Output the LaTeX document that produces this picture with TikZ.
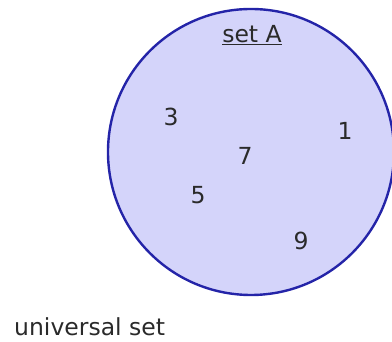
\documentclass[tikz,border=0pt]{standalone}
\usepackage{fontspec}
\setmainfont{DejaVu Sans}
\usepackage{tikz}
\usetikzlibrary{positioning}
\definecolor{SetFill}{HTML}{D4D4FA}
\definecolor{SetEdge}{HTML}{2424A8}
\definecolor{NumInk}{HTML}{2A2A2A}

\begin{document}
\begin{tikzpicture}[x=1pt,y=1pt,
  elem/.style={text=NumInk,font=\fontsize{23.5}{27}\selectfont,inner sep=0pt},
  setlabel/.style={text=NumInk,font=\fontsize{23.5}{27}\selectfont,inner sep=0pt}]
\useasboundingbox (0,0) rectangle (392,342);
\draw[fill=SetFill,draw=SetEdge,line width=2.4pt] (251,190) coordinate (c) circle (143);
\node[setlabel] (nameA) at (252,307) {\underline{set A}};
\foreach \x/\y/\n in {171/225/3,345/211/1,245/186/7,198/147/5,301/101/9}{\node[elem] (e\n) at (\x,\y) {\n};}
\node[setlabel,anchor=west] (univ) at (14,15) {universal set};
\end{tikzpicture}
\end{document}
